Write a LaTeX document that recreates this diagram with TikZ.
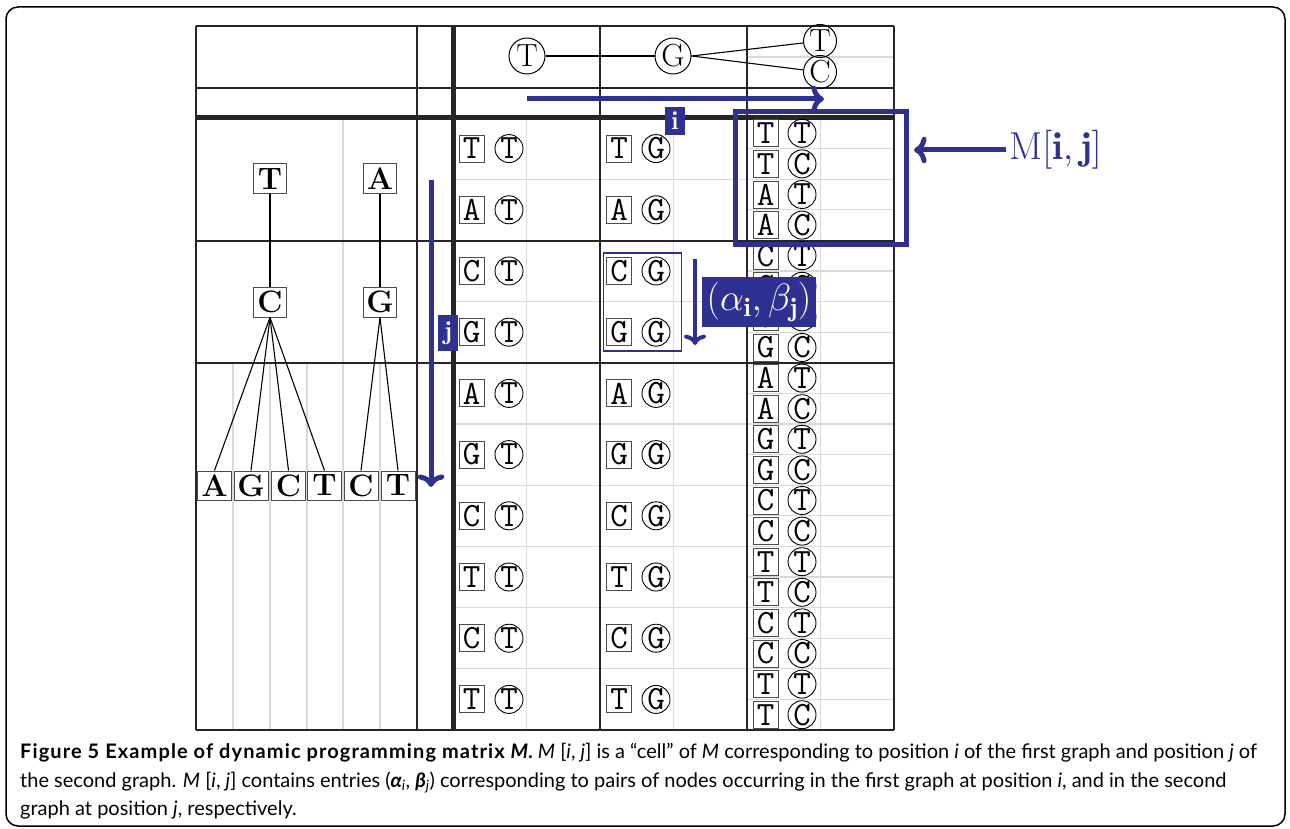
\RequirePackage{fix-cm}
\documentclass[tikz,border=0pt]{standalone}
\usepackage{amssymb,amsmath}
\usepackage{fontspec}
\newfontfamily\capfont{Lato}
\usepackage{tikz}
\usetikzlibrary{arrows.meta}
\definecolor{mblue}{RGB}{46,49,146}

\begin{document}
\begin{tikzpicture}[x=1pt,y=-1pt,
  gridline/.style={line width=1.6pt,black!85},
  heavyline/.style={line width=5pt,black!85},
  lightline/.style={line width=1.2pt,black!15},
  ttbox/.style={draw=black!70,line width=0.9pt,minimum width=25pt,minimum height=27pt,inner sep=0pt,font=\fontsize{34}{34}\selectfont\ttfamily},
  ttcirc/.style={draw,circle,line width=0.9pt,minimum size=28pt,inner sep=0pt,font=\fontsize{34}{34}\selectfont\ttfamily},
  gnode/.style={draw,circle,line width=1pt,minimum size=36pt,inner sep=0pt,font=\fontsize{32}{32}\selectfont},
  tnode/.style={draw=black!70,line width=1pt,minimum width=33pt,minimum height=30pt,inner sep=0pt,font=\fontsize{31}{31}\selectfont\bfseries},
  leaf/.style={tnode,minimum width=34pt,minimum height=29pt},
  treeedge/.style={line width=1.1pt},
  idx/.style={fill=mblue,text=white,inner sep=0pt,minimum width=20pt,font=\fontsize{26}{26}\selectfont\bfseries},
  barrow/.style={mblue,line width=5pt,->}]
  \useasboundingbox (0,0) rectangle (1290,829);
  % 枠
  \draw[line width=1.5pt,rounded corners=12pt] (6,7) rectangle (1285,826);
  % 薄い線
  \foreach \k in {1,3,5,6,7,8,9} \draw[lightline] (453,{118+\k*61.2}) -- (894,{118+\k*61.2});
  \foreach \k in {0,...,9} \draw[lightline] (747,{118+(2*\k+1)*30.6}) -- (894,{118+(2*\k+1)*30.6});
  \foreach \x in {526.5,673.5,820.5} \draw[lightline] (\x,118) -- (\x,730);
  \draw[lightline] (343,118) -- (343,730);
  \foreach \x in {233,270,307,380} \draw[lightline] (\x,363) -- (\x,730);
  \draw[lightline] (747,57) -- (894,57);
  % 格子
  \foreach \y in {26,88,241,363,730} \draw[gridline] (196,\y) -- (894,\y);
  \foreach \x in {196,417,600,747,894} \draw[gridline] (\x,26) -- (\x,730);
  \draw[heavyline] (196,118) -- (894,118);
  \draw[heavyline] (453,26) -- (453,730);
  % 左のグラフ
  \node[tnode] (t1) at (270,179) {T};
  \node[tnode] (a1) at (380,179) {A};
  \node[tnode] (c2) at (270,302) {C};
  \node[tnode] (g2) at (380,302) {G};
  \foreach \x/\l [count=\n] in {214.5/A,251/G,288.5/C,324.5/T,361/C,398/T}
    \node[leaf] (l\n) at (\x,485.5) {\l};
  \draw[treeedge] (t1) -- (c2);
  \draw[treeedge] (a1) -- (g2);
  \foreach \n in {1,...,4} \draw[treeedge] (c2.south) -- (l\n.north);
  \foreach \n in {5,6} \draw[treeedge] (g2.south) -- (l\n.north);
  % 上のグラフ
  \node[gnode] (gt) at (527,56) {T};
  \node[gnode] (gg) at (673,56) {G};
  \node[gnode,minimum size=33pt] (gt3) at (820,41) {T};
  \node[gnode,minimum size=33pt] (gc3) at (820,72) {C};
  \draw[treeedge] (gt) -- (gg);
  \draw[treeedge] (gg.east) -- (gt3);
  \draw[treeedge] (gg.east) -- (gc3);
  % 組
  \foreach \l [count=\k from 0] in {T,A,C,G,A,G,C,T,C,T} {
    \node[ttbox] (p1-\k) at (471.5,{118+(\k+0.5)*61.2}) {\l};
    \node[ttcirc] (q1-\k) at (509,{118+(\k+0.5)*61.2}) {T};
    \node[ttbox] (p2-\k) at (619,{118+(\k+0.5)*61.2}) {\l};
    \node[ttcirc] (q2-\k) at (656,{118+(\k+0.5)*61.2}) {G};
  }
  \foreach \l/\m [count=\k from 0] in {T/T,T/C,A/T,A/C,C/T,C/C,G/T,G/C,A/T,A/C,G/T,G/C,C/T,C/C,T/T,T/C,C/T,C/C,T/T,T/C} {
    \node[ttbox] (p3-\k) at (765.5,{118+(\k+0.5)*30.6}) {\l};
    \node[ttcirc] (q3-\k) at (802,{118+(\k+0.5)*30.6}) {\m};
  }
  % 青
  \coordinate (ia) at (527,99);
  \coordinate (ib) at (824,99);
  \draw[barrow] (ia) -- (ib);
  \node[idx,minimum height=28pt] (ilab) at (675,121) {i};
  \coordinate (ja) at (431,180);
  \coordinate (jb) at (431,487);
  \draw[barrow] (ja) -- (jb);
  \node[idx,minimum height=36pt] (jlab) at (448,333) {j};
  \node[draw=mblue,line width=1.5pt,minimum width=78pt,minimum height=98pt,inner sep=0pt] (cellij) at (642.5,302) {};
  \coordinate (sa) at (695,259);
  \coordinate (sb) at (695,345);
  \draw[mblue,line width=4pt,->] (sa) -- (sb);
  \node[fill=mblue,text=white,minimum width=114pt,minimum height=50pt,inner sep=0pt,font=\fontsize{38}{38}\selectfont] (ablab) at (759,302) {$(\alpha_{\mathbf{i}},\beta_{\mathbf{j}})$};
  \node[draw=mblue,line width=5pt,minimum width=171pt,minimum height=133pt,inner sep=0pt] (cellM) at (821,178) {};
  \node[text=mblue,anchor=west,inner sep=3pt,font=\fontsize{39}{39}\selectfont] (mlab) at (1006,150) {$\mathrm{M}[\mathbf{i},\mathbf{j}]$};
  \draw[barrow] (mlab.west) -- ([xshift=5pt]cellM.east |- mlab.west);
  % 説明
  \node[anchor=north west,inner sep=0pt,align=left,font=\capfont\fontsize{20}{28.5}\selectfont] (cap) at (20,743)
    {{\bfseries\addfontfeature{LetterSpace=5.5}Figure 5 Example of dynamic programming matrix \textit{M}.} \textit{M} [\textit{i}, \textit{j}] is a “cell” of \textit{M} corresponding to position \textit{i} of the first graph and position \textit{j} of\\
     the second graph. \textit{M} [\textit{i}, \textit{j}] contains entries (\textbf{\textit{α}}\textsubscript{\textit{i}}, \textbf{\textit{β}}\textsubscript{\textit{j}}) corresponding to pairs of nodes occurring in the first graph at position \textit{i}, and in the second\\
     graph at position \textit{j}, respectively.};
\end{tikzpicture}
\end{document}
